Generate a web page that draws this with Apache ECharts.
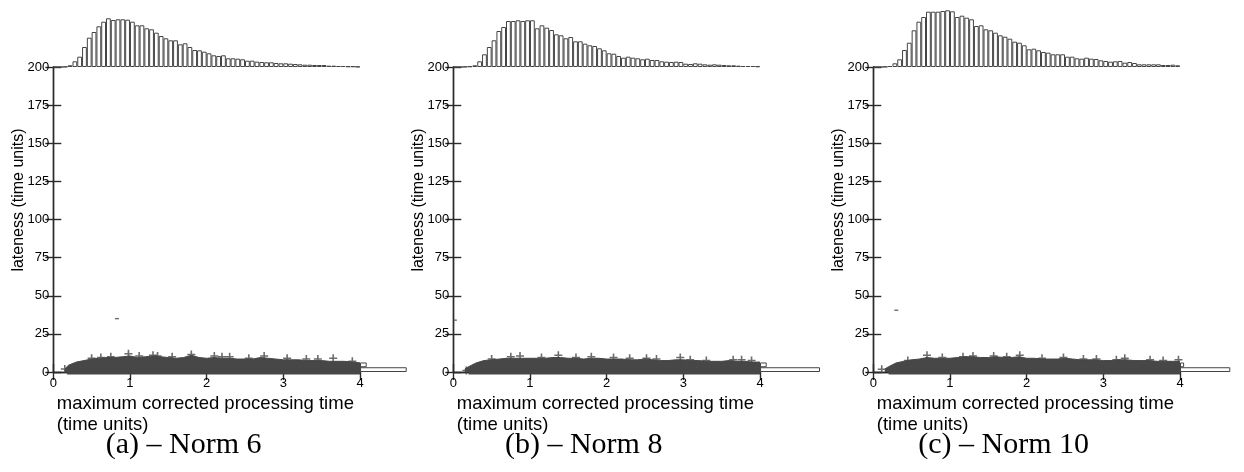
<!DOCTYPE html>
<html lang="en">
<head>
    <meta charset="UTF-8">
    <title>Lateness vs processing time</title>
    <script src="https://cdn.jsdelivr.net/npm/echarts/dist/echarts.min.js"></script>
    <style>
        body { margin: 0; background: #fff; }
    </style>
</head>
<body>
    <div id="myChart" style="width: 1244px;height: 472px;"></div>
    <script>
        // top histograms (64 bins over 0..4), relative heights
        var histA = [0,0,0.3,1.7,5.7,10.3,20,29.3,35,40.7,45.3,48.7,47,47.7,47.7,47.3,45.3,41.7,41.7,38.7,37.7,34.3,31,28.7,26.7,26.7,22.7,23.7,20,17,16.7,15.3,13.7,11.7,11,11.7,8.7,8.7,8.3,7.7,6.3,6.3,5.3,5,4.7,4.7,4,3.7,3.7,3.3,3,2.7,2.3,2.3,2,2,2,1.3,1.3,1,1,0.7,0.7,0.3];
        var histB = [0,0,0.3,0.7,1.7,5.7,12.7,20,26.7,36,40,46,46,46.7,46,46.7,46.7,38.7,41.7,39.3,37,32.7,31.7,28.7,30,25.7,25.7,23.3,21.7,21,18.7,16.7,13.7,13.3,11,9.3,10.3,9.3,8.7,7.7,8.3,7,7,5.7,5.3,5,5.3,5,3.3,3,3.7,3.3,2.7,2.3,2.7,2.3,2,1.7,1.7,1.3,1,1,1,0.7];
        var histC = [0,0,0.3,1,3.7,7.7,17,24.3,36.7,45.3,50,55.3,55.3,55.3,56,56.7,55.7,50,51.3,49.3,47.7,41,41.7,37.7,36.7,34.3,31.7,30.3,28.3,25.3,24.3,21.7,17.7,18.3,16.7,15,14.3,12.7,12.7,12.7,10.3,10.3,8.7,8.3,9.3,8.3,8,6.7,6,5.3,5.7,6,4.3,5,4,2.7,2.7,2.7,2.7,2.7,2,2,2.3,1.7];

        // side histograms (64 bins over 0..200), only the lowest bins are filled
        var sideA = [46.7, 6.7];
        var sideB = [60, 6.7];
        var sideC = [55, 4.5];

        // upper edge of the dense cloud of points
        var envX = [0.15,0.2,0.3,0.4,0.5,0.6,0.7,0.8,0.9,1.0,1.1,1.2,1.3,1.4,1.5,1.6,1.7,1.8,1.9,2.0,2.1,2.2,2.3,2.4,2.5,2.6,2.7,2.8,2.9,3.0,3.1,3.2,3.3,3.4,3.5,3.6,3.7,3.8,3.9,4.0];
        var envA = [2,4.5,6.5,7.5,8.5,9,9.5,9.5,10,10.5,9.5,10,10.5,10,9.5,9,9.5,11,9.5,9,9.5,9,9,8.5,8.5,8.5,9.5,9,8.5,8,8,8,7.5,7.5,7.5,7,7,7,6.5,6];
        var envB = [2,3.5,6,7.5,8,8.5,9,9,9,9,9,9,9.5,9.5,9,9,8.5,9,9,8.5,8.5,8.5,8,8,8.5,8,7.5,7.5,8,8,7.5,7.5,7,7,7,7.5,7,7,6.5,6.5];
        var envC = [2,3.5,6,7,8,8.5,9.5,9,9,9,9.5,10,10,9.5,9.5,10,9.5,9.5,10,9,9,8.5,8.5,8.5,9,8.5,8,8,8,7.5,7.5,8,8,7.5,7.5,7.5,7,7,7,7];
        // lower edge of the cloud (points sitting on zero)
        var floorA = [[0.18,0],[4,0]];
        var floorB = [[0.2,0],[4,0]];
        var floorC = [[0.2,0],[4,0]];

        // single points sticking out of the cloud
        var plusA = [[0.15,2],[0.5,9],[0.62,9.5],[0.75,10],[0.98,12],[1.12,10.5],[1.3,11],[1.36,10.5],[1.55,10],[1.8,11.5],[2.1,10.5],[2.2,10],[2.3,10],[2.55,9],[2.75,10.5],[3.05,9],[3.3,8.5],[3.45,8.5],[3.65,9],[3.9,7]];
        var plusB = [[0.17,1],[0.5,8.5],[0.75,10],[0.87,10.5],[1.15,9.5],[1.37,11],[1.6,9.5],[1.8,10],[2.09,9.5],[2.3,9],[2.52,9],[2.65,8.5],[2.96,9.5],[3.09,8],[3.3,7.5],[3.65,8],[3.76,8],[3.89,7.5]];
        var plusC = [[0.11,1.8],[0.45,7.5],[0.7,11],[0.9,9.5],[1.17,10],[1.3,10.5],[1.57,10.5],[1.74,10],[1.91,11],[2.2,9],[2.48,9.5],[2.74,8.5],[2.91,8.5],[3.17,8],[3.28,9],[3.61,8],[3.78,7.5],[3.98,8]];
        var dashA = [[0.83,35]];
        var dashB = [[0.02,34]];
        var dashC = [[0.3,40.5]];

        var xTicks = ['0','1','2','3','4'];
        var yTicks = ['0','25','50','75','100','125','150','175','200'];
        var captions = ['(a) \u2013 Norm 6', '(b) \u2013 Norm 8', '(c) \u2013 Norm 10'];
        var xTitle = ['maximum corrected processing time', '(time units)'];
        var yTitle = 'lateness (time units)';

        var panels = [
            {left: 53.3, hist: histA, side: sideA, env: envA, floor: floorA, plus: plusA, dash: dashA},
            {left: 453.3, hist: histB, side: sideB, env: envB, floor: floorB, plus: plusB, dash: dashB},
            {left: 873.3, hist: histC, side: sideC, env: envC, floor: floorC, plus: plusC, dash: dashC}
        ];

        var W = 306.7, TOP = 67, H = 305;
        var dark = '#474747';
        var axisCol = '#2a2a2a';
        var sans = 'Liberation Sans, Arial, sans-serif';
        var bins = [];
        for (var b = 0; b < 64; b++) bins.push(b);

        var grid = [], xAxis = [], yAxis = [], series = [], graphic = [];

        // per panel: grids [main, top hist, side hist]
        // xAxis order [bottom, top, hist, side], yAxis order [left, right, hist, side]
        panels.forEach(function (p, k) {
            var g = k * 3;
            grid.push({left: p.left, top: TOP, width: W, height: H});
            grid.push({left: p.left, top: TOP - 60, width: W, height: 60});
            grid.push({left: p.left + W, top: TOP, width: 70, height: H});

            var line = {lineStyle: {color: axisCol, width: 1.4}};
            var tick = {inside: true, length: 8, lineStyle: {color: axisCol, width: 1.4}};

            xAxis.push({gridIndex: g, type: 'value', min: +xTicks[0], max: +xTicks[xTicks.length - 1], interval: 1,
                axisLine: line, axisTick: tick, splitLine: {show: false},
                axisLabel: {fontSize: 13, color: '#000', margin: 5, fontFamily: sans}});
            xAxis.push({gridIndex: g, type: 'value', position: 'top', min: 0, max: 4, interval: 1,
                axisLine: line, axisTick: tick, splitLine: {show: false}, axisLabel: {show: false}});
            xAxis.push({gridIndex: g + 1, type: 'category', data: bins, show: false});
            xAxis.push({gridIndex: g + 2, type: 'value', min: 0, max: 70, show: false});

            yAxis.push({gridIndex: g, type: 'value', min: +yTicks[0], max: +yTicks[yTicks.length - 1], interval: 25,
                axisLine: line, axisTick: tick, splitLine: {show: false},
                axisLabel: {fontSize: 13, color: '#000', margin: 4, fontFamily: sans}});
            yAxis.push({gridIndex: g, type: 'value', position: 'right', min: 0, max: 200, interval: 25,
                axisLine: line, axisTick: tick, splitLine: {show: false}, axisLabel: {show: false}});
            yAxis.push({gridIndex: g + 1, type: 'value', min: 0, max: 60, show: false});
            yAxis.push({gridIndex: g + 2, type: 'category', data: bins, show: false});
        });

        panels.forEach(function (p, k) {
            var a = k * 4;
            var barStyle = {color: '#fff', borderColor: '#444', borderWidth: 1};
            series.push({type: 'bar', xAxisIndex: a + 2, yAxisIndex: a + 2, data: p.hist,
                barCategoryGap: '0%', itemStyle: barStyle, silent: true});
            var sideData = bins.map(function (i) { return i < p.side.length ? p.side[i] : null; });
            series.push({type: 'bar', xAxisIndex: a + 3, yAxisIndex: a + 3, data: sideData,
                barCategoryGap: '0%', itemStyle: barStyle, silent: true});
            series.push({type: 'line', xAxisIndex: a, yAxisIndex: a, symbol: 'none', z: 3,
                data: envX.map(function (x, i) { return [x, p.env[i]]; }),
                lineStyle: {color: dark, width: 1}, areaStyle: {color: dark, opacity: 1}});
            series.push({type: 'line', xAxisIndex: a, yAxisIndex: a, symbol: 'none', z: 3, clip: false,
                data: p.floor, lineStyle: {color: dark, width: 5}});
            series.push({type: 'scatter', xAxisIndex: a, yAxisIndex: a, z: 4,
                symbol: 'path://M4,0H6V4H10V6H6V10H4V6H0V4H4Z', symbolSize: 8,
                itemStyle: {color: dark}, data: p.plus});
            series.push({type: 'scatter', xAxisIndex: a, yAxisIndex: a, z: 4,
                symbol: 'rect', symbolSize: [4, 1.4], itemStyle: {color: dark}, data: p.dash});

            graphic.push({type: 'text', x: p.left + 3.5, y: 404,
                style: {text: xTitle[0], font: '18.5px ' + sans, fill: '#000', verticalAlign: 'middle'}});
            graphic.push({type: 'text', x: p.left + 3.5, y: 425,
                style: {text: xTitle[1], font: '18.5px ' + sans, fill: '#000', verticalAlign: 'middle'}});
            graphic.push({type: 'text', x: p.left - 34.3, y: 200, rotation: Math.PI / 2,
                style: {text: yTitle, font: '16px ' + sans, fill: '#000', align: 'center', verticalAlign: 'middle'}});
            graphic.push({type: 'text', x: p.left + W / 2 - 23, y: 445,
                style: {text: captions[k], font: '30px Liberation Serif, Times New Roman, serif', fill: '#000',
                    align: 'center', verticalAlign: 'middle'}});
        });

        var myChart = echarts.init(document.getElementById('myChart'));
        var option = {
            animation: false,
            grid: grid,
            xAxis: xAxis,
            yAxis: yAxis,
            series: series,
            graphic: graphic
        };
        myChart.setOption(option);
    </script>
</body>
</html>
